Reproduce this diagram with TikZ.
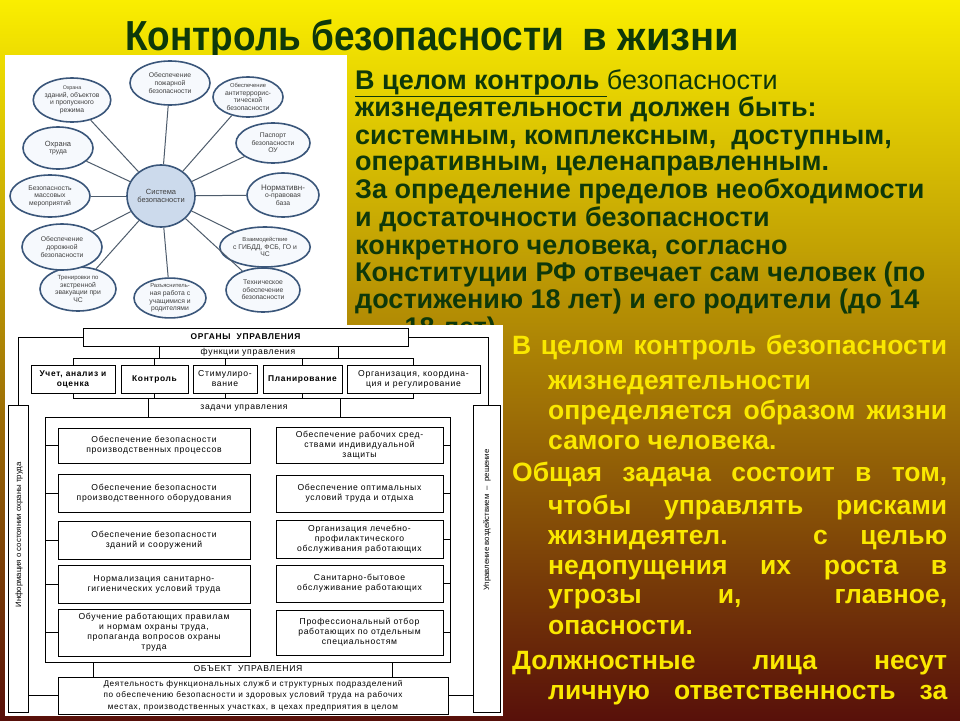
\documentclass[tikz,border=0pt]{standalone}
\usepackage{fontspec}
\setmainfont{Liberation Sans}
\newfontfamily\titlefont[FakeStretch=0.88]{Liberation Sans}
\newfontfamily\chartfont[LetterSpace=8]{Liberation Sans}
\usetikzlibrary{shapes.geometric}

\definecolor{titlegreen}{RGB}{14,56,10}
\definecolor{textyellow}{RGB}{250,232,0}
\definecolor{bgtop}{RGB}{250,238,0}
\definecolor{bgmid}{RGB}{172,130,18}
\definecolor{bgbot}{RGB}{88,16,10}
\definecolor{ellline}{RGB}{58,86,122}
\definecolor{ellfill}{RGB}{246,249,253}
\definecolor{sysfill}{RGB}{204,218,236}
\definecolor{spoke}{RGB}{78,92,108}

\tikzset{
  ell/.style={ellipse, draw=ellline, line width=1.6pt, fill=ellfill, inner sep=0pt,
    align=center, text=black!75, font=\fontsize{6.8}{7.6}\selectfont},
  spokeline/.style={draw=spoke, line width=1pt},
  orgbox/.style={draw, line width=0.9pt, fill=white, inner sep=1pt, align=center,
    font=\chartfont\fontsize{8.6}{10}\selectfont},
  funcbox/.style={orgbox, minimum height=28pt},
  taskbox/.style={orgbox},
  orglabel/.style={inner sep=0pt, font=\chartfont\fontsize{8.6}{10}\selectfont},
  topline/.style={anchor=base west, inner sep=0pt, text=titlegreen,
    font=\bfseries\fontsize{27}{27}\selectfont},
  lowline/.style={anchor=base west, inner sep=0pt, text=textyellow,
    font=\bfseries\fontsize{26.5}{26.5}\selectfont},
}

\begin{document}
\begin{tikzpicture}[x=1pt, y=-1pt, line join=miter]
  \useasboundingbox (0,0) rectangle (960,720);
  \shade[top color=bgtop, middle color=bgmid, bottom color=bgbot] (0,0) rectangle (960,720);

  % title
  \node[anchor=base west, inner sep=0pt, text=titlegreen, font=\titlefont\bfseries\fontsize{42}{42}\selectfont] (title) at (125,50) {Контроль безопасности};
  \node[anchor=base west, inner sep=0pt, text=titlegreen, font=\bfseries\fontsize{40}{40}\selectfont] (title2) at (582,50) {в жизни};

  % upper text
  \foreach \y/\t [count=\i] in {
    89/{\underline{В целом контроль\ }{\mdseries безопасности}},
    116/{жизнедеятельности должен быть:},
    144/{системным, комплексным,\ \ доступным,},
    170/{оперативным, целенаправленным.},
    198/{За определение пределов необходимости},
    226/{и достаточности безопасности},
    254/{конкретного человека, согласно},
    281/{Конституции РФ отвечает сам человек (по},
    308/{достижению 18 лет) и его родители (до 14},
    336/{\quad – 18 лет).}}
    \node[topline] (up\i) at (355,\y) {\t};

  % system scheme
  \fill[white] (5,55) rectangle (347,325);
  \node[ell, fill=sysfill, minimum width=68pt, minimum height=62pt, font=\fontsize{7.5}{8.5}\selectfont] (sys) at (161,196) {Система\\безопасности};
  \foreach \i/\x/\y/\w/\h/\t in {
    1/170/83/80/44/{Обеспечение\\пожарной\\безопасности},
    2/248/97/70/40/{\fontsize{5.8}{6.4}\selectfont Обеспечение\\антитеррорис-\\тической\\безопасности},
    3/273/143/74/40/{Паспорт\\безопасности\\ОУ},
    4/283/195/72/44/{\fontsize{8}{9}\selectfont Нормативн-\\о-правовая\\база},
    5/265/247/72/40/{\fontsize{5.8}{6.6}\selectfont Взаимодействие\\с ГИБДД, ФСБ, ГО и\\ЧС},
    6/263/290/74/44/{Техническое\\обеспечение\\безопасности},
    7/170/298/72/38/{\fontsize{5.8}{6.4}\selectfont Разъяснитель-\\ная работа с\\учащимися и\\родителями},
    8/78/289/76/44/{\fontsize{6}{6.6}\selectfont Тренировки по\\экстренной\\эвакуации при\\ЧС},
    9/62/247/80/46/{Обеспечение\\дорожной\\безопасности},
    10/50/196/80/42/{Безопасность\\массовых\\мероприятий},
    11/58/148/70/42/{\fontsize{7.5}{8.5}\selectfont Охрана\\труда},
    12/72/100/74/44/{\fontsize{5.3}{6}\selectfont Охрана\\зданий, объектов\\и пропускного\\режима}}
  {
    \node[ell, minimum width=\w pt, minimum height=\h pt] (e\i) at (\x,\y) {\t};
    \draw[spokeline] (sys) -- (e\i);
  }

  % management scheme
  \fill[white] (5,325) rectangle (503,716);
  \node[orgbox, minimum width=325pt, minimum height=18pt, font=\chartfont\bfseries\fontsize{8.4}{10}\selectfont] (organs) at (245.5,337) {ОРГАНЫ\ \ УПРАВЛЕНИЯ};
  \node[orglabel] (funcs) at (248,352) {функции управления};
  \node[funcbox, minimum width=84pt, font=\chartfont\bfseries\fontsize{8.4}{10}\selectfont] (f1) at (73,379) {Учет, анализ и\\оценка};
  \node[funcbox, minimum width=67pt, font=\chartfont\bfseries\fontsize{8.4}{10}\selectfont] (f2) at (154.5,379) {Контроль};
  \node[funcbox, minimum width=64pt] (f3) at (225,379) {Стимулиро-\\вание};
  \node[funcbox, minimum width=79pt, font=\chartfont\bfseries\fontsize{8.4}{10}\selectfont] (f4) at (302.5,379) {Планирование};
  \node[funcbox, minimum width=133pt] (f5) at (413.5,379) {Организация, координа-\\ция и регулирование};
  \node[orglabel] (goals) at (244,408) {задачи управления};

  \coordinate (fa) at (159,359);
  \coordinate (fb) at (338,359);
  \draw[line width=0.9pt] (organs.south -| fa) -- (fa);
  \draw[line width=0.9pt] (organs.south -| fb) -- (fb);
  \draw[line width=0.9pt] ([yshift=6pt]f1.north) -- ([yshift=6pt]f5.north);
  \draw[line width=0.9pt] ([yshift=-5pt]f1.south) -- ([yshift=-5pt]f5.south);
  \foreach \i in {1,...,5} {
    \draw[line width=0.9pt] (f\i.north) -- ++(0,-6);
    \draw[line width=0.9pt] (f\i.south) -- ++(0,5);
  }

  \node[draw, line width=0.9pt, minimum width=405pt, minimum height=245pt, inner sep=0pt] (tasks) at (247.5,539.5) {};
  \coordinate (ta) at (148,398);
  \coordinate (tb) at (340,398);
  \draw[line width=0.9pt] (ta) -- (ta |- tasks.north);
  \draw[line width=0.9pt] (tb) -- (tb |- tasks.north);

  \foreach \i/\y/\h/\t in {
    1/445.5/35/{Обеспечение безопасности\\производственных процессов},
    2/493/38/{Обеспечение безопасности\\производственного оборудования},
    3/540/38/{Обеспечение безопасности\\зданий и сооружений},
    4/584/38/{Нормализация санитарно-\\гигиенических условий труда},
    5/632.5/47/{Обучение работающих правилам\\и нормам охраны труда,\\пропаганда вопросов охраны\\труда}}
  {
    \node[taskbox, minimum width=192pt, minimum height=\h pt] (l\i) at (154,\y) {\t};
    \draw[line width=0.9pt] (l\i.west) -- (l\i.west -| tasks.west);
  }
  \foreach \i/\y/\h/\t in {
    1/445/36/{Обеспечение рабочих сред-\\ствами индивидуальной\\защиты},
    2/493.5/37/{Обеспечение оптимальных\\условий труда и отдыха},
    3/539/38/{Организация лечебно-\\профилактического\\обслуживания работающих},
    4/583.5/37/{Санитарно-бытовое\\обслуживание работающих},
    5/632.5/45/{Профессиональный отбор\\работающих по отдельным\\специальностям}}
  {
    \node[taskbox, minimum width=167pt, minimum height=\h pt] (r\i) at (359.5,\y) {\t};
    \draw[line width=0.9pt] (r\i.east) -- (r\i.east -| tasks.east);
  }

  \node[orglabel] (object) at (248,669) {ОБЪЕКТ\ \ УПРАВЛЕНИЯ};
  \node[orgbox, minimum width=390pt, minimum height=37pt, inner sep=0pt, font=\chartfont\fontsize{8.2}{11.5}\selectfont] (act) at (253,695.5)
    {Деятельность функциональных служб и структурных подразделений\\по обеспечению безопасности и здоровых условий труда на рабочих\\местах, производственных участках, в цехах предприятия в целом};
  \coordinate (oa) at (93,670);
  \coordinate (ob) at (392,670);
  \draw[line width=0.9pt] (act.north -| oa) -- (oa |- tasks.south);
  \draw[line width=0.9pt] (act.north -| ob) -- (ob |- tasks.south);

  % side panels
  \node[draw, line width=0.9pt, minimum width=20pt, minimum height=307pt, inner sep=0pt] (info) at (18,558.5) {};
  \node[draw, line width=0.9pt, minimum width=27pt, minimum height=307pt, inner sep=0pt] (ctrl) at (486.5,558.5) {};
  \node[rotate=90, inner sep=0pt, font=\fontsize{7.8}{9}\selectfont] (infotxt) at (19,535) {Информация о состоянии охраны труда};
  \node[rotate=90, inner sep=0pt, font=\fontsize{7.8}{9}\selectfont] (ctrltxt) at (487,520) {Управление воздействием \ – \ решение};
  \coordinate (lt) at (18,337);
  \coordinate (rt) at (488,337);
  \draw[line width=0.9pt] (organs.west) -- (lt) -- (lt |- info.north);
  \draw[line width=0.9pt] (organs.east) -- (rt) -- (rt |- ctrl.north);
  \draw[line width=0.9pt] (act.west) -- (act.west -| info.east);
  \draw[line width=0.9pt] (act.east) -- (act.east -| ctrl.west);

  % lower text
  \node[lowline] (lo1) at (512,354) {\makebox[435pt][s]{В целом контроль безопасности}};
  \node[lowline] (lo2) at (548,389) {жизнедеятельности};
  \node[lowline] (lo3) at (548,419) {\makebox[399pt][s]{определяется образом жизни}};
  \node[lowline] (lo4) at (548,449) {самого человека.};
  \node[lowline] (lo5) at (512,481) {\makebox[435pt][s]{Общая задача состоит в том,}};
  \node[lowline] (lo6) at (548,514) {\makebox[399pt][s]{чтобы управлять рисками}};
  \node[lowline] (lo7) at (548,544) {\makebox[399pt][s]{жизнидеятел. с целью}};
  \node[lowline] (lo8) at (548,574) {\makebox[399pt][s]{недопущения их роста в}};
  \node[lowline] (lo9) at (548,603) {\makebox[399pt][s]{угрозы и, главное,}};
  \node[lowline] (lo10) at (548,634) {опасности.};
  \node[lowline] (lo11) at (512,669) {\makebox[435pt][s]{Должностные лица несут}};
  \node[lowline] (lo12) at (548,699) {\makebox[399pt][s]{личную ответственность за}};
\end{tikzpicture}
\end{document}
